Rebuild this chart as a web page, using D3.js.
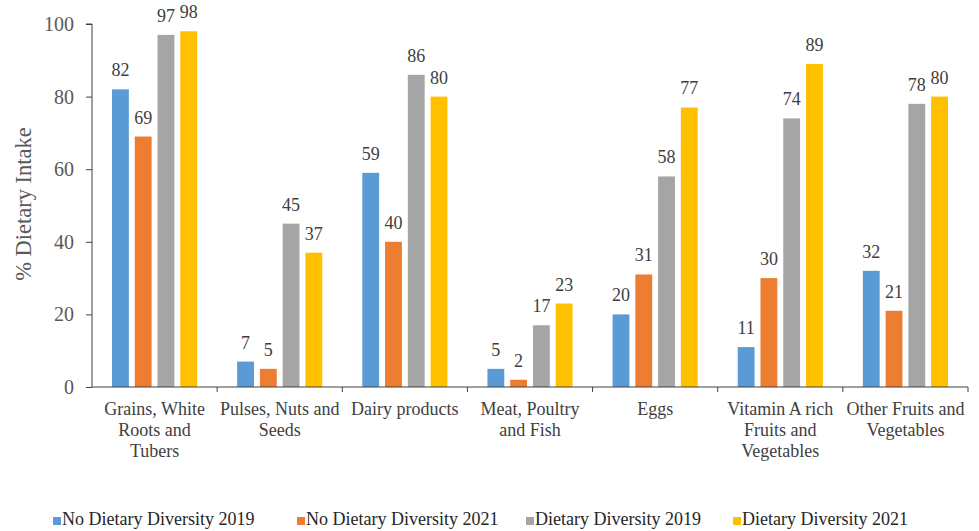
<!DOCTYPE html>
<html lang="en">
	<head>
		<meta charset="utf-8">
		<title>Dietary Intake</title>
		<script src="https://d3js.org/d3.v7.min.js"></script>
		<style type="text/css">
			body { margin: 0; background: #fff; }
		</style>
	</head>
	<body>
		<script type="text/javascript">
			//Data
			let categories = ["Grains, White\nRoots and\nTubers", "Pulses, Nuts and\nSeeds", "Dairy products",
				"Meat, Poultry\nand Fish", "Eggs", "Vitamin A rich\nFruits and\nVegetables", "Other Fruits and\nVegetables"];
			let seriesNames = ["No Dietary Diversity 2019", "No Dietary Diversity 2021", "Dietary Diversity 2019", "Dietary Diversity 2021"];
			let noDD2019 = [82, 7, 59, 5, 20, 11, 32];
			let noDD2021 = [69, 5, 40, 2, 31, 30, 21];
			let dd2019 = [97, 45, 86, 17, 58, 74, 78];
			let dd2021 = [98, 37, 80, 23, 77, 89, 80];
			let yTicks = [0, 20, 40, 60, 80, 100];
			let colors = ["#5B9BD5", "#ED7D31", "#A5A5A5", "#FFC000"];

			let series = [noDD2019, noDD2021, dd2019, dd2021];
			let serif = "'Liberation Serif'";

			//Width and height
			let w = 979;
			let h = 531;
			let plotLeft = 92, plotRight = 968, plotTop = 24, plotBottom = 387;

			let svg = d3.select("body")
						.append("svg")
						.attr("width", w)
						.attr("height", h);

			//Scales
			let xScale = d3.scaleBand()
							.domain(d3.range(categories.length))
							.range([plotLeft, plotRight]);
			let inner = d3.scaleBand()
							.domain(d3.range(series.length))
							.range([20, xScale.bandwidth() - 20])
							.paddingInner(0.26);
			let yScale = d3.scaleLinear()
							.domain([0, 100])
							.range([plotBottom, plotTop]);

			//Bars
			series.forEach(function(vals, s) {
				let g = svg.append("g");
				g.selectAll("rect")
					.data(vals)
					.enter()
					.append("rect")
					.attr("x", function(d, i) { return xScale(i) + inner(s); })
					.attr("y", function(d) { return yScale(d); })
					.attr("width", inner.bandwidth())
					.attr("height", function(d) { return yScale(0) - yScale(d); })
					.attr("fill", colors[s]);
				g.selectAll("text")
					.data(vals)
					.enter()
					.append("text")
					.attr("x", function(d, i) { return xScale(i) + inner(s) + inner.bandwidth() / 2; })
					.attr("y", function(d) { return yScale(d) - 13; })
					.attr("text-anchor", "middle")
					.style("font-family", serif)
					.style("font-size", "18px")
					.attr("fill", "#404040")
					.text(function(d) { return d; });
			});

			//Y axis
			let yAxis = d3.axisLeft(yScale)
							.tickValues(yTicks)
							.tickSize(6)
							.tickPadding(12);
			let gy = svg.append("g")
				.attr("transform", "translate(" + plotLeft + ",0)")
				.call(yAxis);
			gy.select(".domain").attr("stroke", "#404040").attr("d", "M-6," + plotTop + "H0V" + plotBottom);
			gy.selectAll(".tick line").attr("stroke", "#404040");
			gy.selectAll(".tick text")
				.style("font-family", serif)
				.style("font-size", "20px")
				.attr("fill", "#595959");

			//X axis
			let boundaries = d3.range(1, categories.length + 1).map(function(i) {
				return i < categories.length ? xScale(i) : plotRight;
			});
			let gx = svg.append("g");
			gx.append("line")
				.attr("x1", plotLeft).attr("x2", plotRight)
				.attr("y1", plotBottom).attr("y2", plotBottom)
				.attr("stroke", "#404040");
			gx.selectAll("line.xt")
				.data(boundaries)
				.enter()
				.append("line")
				.attr("class", "xt")
				.attr("x1", function(d) { return d; })
				.attr("x2", function(d) { return d; })
				.attr("y1", plotBottom)
				.attr("y2", plotBottom + 5)
				.attr("stroke", "#404040");

			//Category labels
			categories.forEach(function(c, i) {
				let t = svg.append("text")
					.attr("text-anchor", "middle")
					.style("font-family", serif)
					.style("font-size", "18px")
					.attr("fill", "#404040");
				c.split("\n").forEach(function(line, k) {
					t.append("tspan")
						.attr("x", xScale(i) + xScale.bandwidth() / 2)
						.attr("y", 415 + k * 21)
						.text(line);
				});
			});

			//Y axis title
			svg.append("text")
				.attr("transform", "translate(31,204) rotate(-90)")
				.attr("text-anchor", "middle")
				.style("font-family", serif)
				.style("font-size", "22.5px")
				.attr("fill", "#595959")
				.text("% Dietary Intake");

			//Legend
			let legendX = [53, 297, 526, 733];
			let lg = svg.append("g")
				.selectAll("g")
				.data(seriesNames)
				.enter()
				.append("g")
				.attr("transform", function(d, i) { return "translate(" + legendX[i] + ",525)"; });
			lg.append("rect")
				.attr("x", 0).attr("y", -8)
				.attr("width", 8).attr("height", 8)
				.attr("fill", function(d, i) { return colors[i]; });
			lg.append("text")
				.attr("x", 9)
				.attr("y", 0)
				.style("font-family", serif)
				.style("font-size", "18px")
				.attr("fill", "#262626")
				.text(function(d) { return d; });
		</script>
</body>
</html>
